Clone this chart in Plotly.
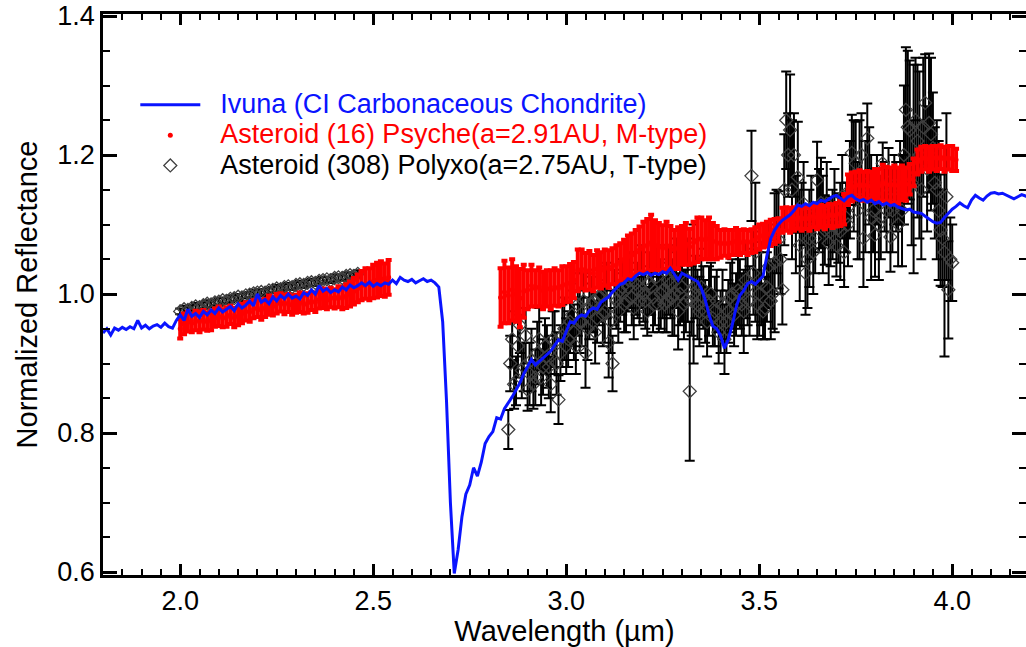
import numpy as np
import plotly.graph_objects as go

# ---------------- data ----------------
# Ivuna (CI carbonaceous chondrite) lab spectrum, 1.80-4.20 um every 0.01 um
ivuna_x = np.round(np.arange(1.80, 4.205, 0.01), 2)
ivuna_y = [
    0.944, 0.950, 0.941, 0.951, 0.948, 0.952, 0.949, 0.953, 0.950, 0.962,  # 1.80
    0.951, 0.955, 0.950, 0.954, 0.956, 0.952, 0.958, 0.953, 0.951, 0.962,  # 1.90
    0.970, 0.962, 0.978, 0.968, 0.972, 0.966, 0.975, 0.970, 0.977, 0.972,  # 2.00
    0.980, 0.974, 0.978, 0.982, 0.976, 0.986, 0.980, 0.984, 0.990, 0.983,  # 2.10
    1.000, 0.988, 0.992, 0.986, 0.996, 0.990, 0.998, 0.993, 1.000, 0.994,  # 2.20
    0.997, 0.993, 1.002, 0.998, 1.006, 1.000, 1.012, 1.004, 1.008, 1.002,  # 2.30
    1.006, 1.003, 1.010, 1.006, 1.013, 1.009, 1.012, 1.016, 1.012, 1.017,  # 2.40
    1.011, 1.015, 1.012, 1.016, 1.014, 1.020, 1.015, 1.024, 1.020, 1.018,  # 2.50
    1.021, 1.016, 1.019, 1.022, 1.018, 1.020, 1.016, 1.010, 0.960, 0.845,  # 2.60
    0.700, 0.598, 0.632, 0.680, 0.712, 0.725, 0.750, 0.738, 0.758, 0.785,  # 2.70
    0.795, 0.802, 0.822, 0.820, 0.835, 0.843, 0.852, 0.862, 0.872, 0.885,  # 2.80
    0.895, 0.906, 0.898, 0.903, 0.908, 0.914, 0.918, 0.926, 0.934, 0.932,  # 2.90
    0.945, 0.960, 0.958, 0.966, 0.970, 0.968, 0.976, 0.980, 0.978, 0.988,  # 3.00
    0.992, 0.996, 1.003, 1.008, 1.014, 1.016, 1.022, 1.020, 1.026, 1.030,  # 3.10
    1.028, 1.031, 1.027, 1.030, 1.028, 1.032, 1.030, 1.037, 1.028, 1.020,  # 3.20
    1.030, 1.027, 1.024, 1.022, 1.018, 1.008, 0.992, 0.970, 0.954, 0.950,  # 3.30
    0.940, 0.922, 0.935, 0.955, 0.980, 0.998, 1.005, 1.015, 1.018, 1.014,  # 3.40
    1.020, 1.026, 1.055, 1.080, 1.092, 1.100, 1.106, 1.110, 1.114, 1.120,  # 3.50
    1.128, 1.126, 1.130, 1.127, 1.132, 1.130, 1.135, 1.133, 1.137, 1.140,  # 3.60
    1.142, 1.138, 1.134, 1.140, 1.142, 1.137, 1.134, 1.136, 1.132, 1.135,  # 3.70
    1.130, 1.133, 1.128, 1.131, 1.127, 1.129, 1.125, 1.123, 1.121, 1.122,  # 3.80
    1.118, 1.117, 1.116, 1.112, 1.108, 1.104, 1.102, 1.103, 1.110, 1.116,  # 3.90
    1.122, 1.126, 1.131, 1.127, 1.124, 1.135, 1.142, 1.138, 1.135, 1.141,  # 4.00
    1.145, 1.146, 1.144, 1.145, 1.142, 1.139, 1.137, 1.140, 1.143, 1.141,  # 4.10
    1.138,                                                                 # 4.20
]

# Asteroid (16) Psyche: two wavelength segments, every 0.01 um
psyche_x_left = np.round(np.arange(2.00, 2.545, 0.01), 2)   # 2.00-2.54
psyche_y_left = [
    0.950, 0.957, 0.960, 0.958, 0.962, 0.960, 0.963, 0.960, 0.962, 0.966,
    0.968, 0.965, 0.967, 0.970, 0.966, 0.968, 0.972, 0.975, 0.974, 0.978,
    0.980, 0.977, 0.980, 0.984, 0.982, 0.986, 0.988, 0.985, 0.987, 0.984,
    0.986, 0.988, 0.985, 0.987, 0.990, 0.988, 0.992, 0.994, 0.991, 0.995,
    0.993, 0.996, 0.994, 0.997, 1.000, 1.004, 1.008, 1.012, 1.015, 1.014,
    1.018, 1.020, 1.022, 1.020, 1.024,
]
psyche_err_left = [
    0.014, 0.015, 0.014, 0.013, 0.014, 0.015, 0.014, 0.013, 0.014, 0.013,
    0.014, 0.013, 0.014, 0.013, 0.014, 0.013, 0.014, 0.013, 0.014, 0.013,
    0.013, 0.014, 0.013, 0.014, 0.013, 0.014, 0.013, 0.014, 0.013, 0.014,
    0.013, 0.014, 0.013, 0.014, 0.013, 0.014, 0.013, 0.014, 0.013, 0.014,
    0.014, 0.015, 0.016, 0.017, 0.018, 0.019, 0.020, 0.021, 0.022, 0.023,
    0.024, 0.025, 0.025, 0.024, 0.025,
]
psyche_x_right = np.round(np.arange(2.83, 4.015, 0.01), 2)  # 2.83-4.01
psyche_y_right = [
    0.995, 1.003, 0.998, 1.006, 1.000, 0.994, 1.004,                      # 2.83
    1.006, 1.012, 1.008, 1.010, 1.005, 1.008, 1.006, 1.010, 1.008, 1.012,  # 2.90
    1.014, 1.016, 1.020, 1.034, 1.036, 1.032, 1.034, 1.030, 1.036, 1.034,  # 3.00
    1.038, 1.036, 1.040, 1.042, 1.046, 1.050, 1.054, 1.056, 1.060, 1.064,  # 3.10
    1.068, 1.070, 1.074, 1.070, 1.068, 1.066, 1.070, 1.068, 1.064, 1.066,  # 3.20
    1.070, 1.072, 1.068, 1.074, 1.078, 1.080, 1.078, 1.080, 1.076, 1.074,  # 3.30
    1.072, 1.074, 1.072, 1.074, 1.076, 1.074, 1.076, 1.074, 1.076, 1.078,  # 3.40
    1.082, 1.084, 1.086, 1.088, 1.090, 1.092, 1.106, 1.108, 1.106, 1.108,  # 3.50
    1.110, 1.108, 1.110, 1.108, 1.112, 1.110, 1.112, 1.110, 1.114, 1.112,  # 3.60
    1.114, 1.116, 1.122, 1.150, 1.154, 1.156, 1.158, 1.155, 1.157, 1.155,  # 3.70
    1.158, 1.156, 1.160, 1.158, 1.156, 1.158, 1.156, 1.160, 1.158, 1.165,  # 3.80
    1.175, 1.190, 1.194, 1.196, 1.194, 1.196, 1.195, 1.197, 1.194, 1.196,  # 3.90
    1.195, 1.193,                                                          # 4.00
]
psyche_err_right = [
    0.042, 0.045, 0.040, 0.044, 0.040, 0.042, 0.038,
    0.028, 0.030, 0.026, 0.028, 0.027, 0.026, 0.028, 0.027, 0.026, 0.028,
    0.026, 0.027, 0.026, 0.030, 0.028, 0.027, 0.028, 0.026, 0.027, 0.026,
    0.026, 0.027, 0.026, 0.028, 0.027, 0.028, 0.030, 0.031, 0.032, 0.033,
    0.036, 0.038, 0.040, 0.036, 0.034, 0.033, 0.034, 0.030, 0.028, 0.030,
    0.028, 0.030, 0.026, 0.030, 0.032, 0.030, 0.028, 0.030, 0.026, 0.024,
    0.020, 0.019, 0.020, 0.018, 0.019, 0.018, 0.017, 0.018, 0.017, 0.018,
    0.018, 0.017, 0.018, 0.019, 0.018, 0.017, 0.018, 0.017, 0.018, 0.017,
    0.016, 0.017, 0.016, 0.017, 0.016, 0.017, 0.016, 0.017, 0.016, 0.017,
    0.017, 0.018, 0.022, 0.022, 0.021, 0.020, 0.020, 0.021, 0.020, 0.021,
    0.022, 0.024, 0.026, 0.025, 0.026, 0.027, 0.026, 0.025, 0.024, 0.022,
    0.020, 0.018, 0.018, 0.017, 0.018, 0.017, 0.018, 0.017, 0.018, 0.017,
    0.018, 0.016,
]

# Asteroid (308) Polyxo: short-wavelength segment, every 0.01 um
polyxo_x_left = np.round(np.arange(2.00, 2.465, 0.01), 2)   # 2.00-2.46
polyxo_y_left = [
    0.975, 0.978, 0.977, 0.980, 0.982, 0.981, 0.984, 0.986, 0.985, 0.988,
    0.989, 0.991, 0.990, 0.993, 0.994, 0.996, 0.995, 0.998, 0.999, 1.001,
    1.002, 1.003, 1.002, 1.005, 1.006, 1.008, 1.007, 1.010, 1.011, 1.010,
    1.013, 1.014, 1.013, 1.016, 1.017, 1.016, 1.019, 1.020, 1.021, 1.020,
    1.023, 1.024, 1.023, 1.026, 1.027, 1.026, 1.029,
]
polyxo_err_left = [
    0.004, 0.005, 0.004, 0.004, 0.005, 0.004, 0.004, 0.005, 0.004, 0.004,
    0.005, 0.004, 0.004, 0.005, 0.004, 0.004, 0.005, 0.004, 0.004, 0.005,
    0.004, 0.004, 0.005, 0.004, 0.004, 0.005, 0.004, 0.004, 0.005, 0.004,
    0.004, 0.005, 0.004, 0.004, 0.005, 0.004, 0.004, 0.005, 0.004, 0.004,
    0.005, 0.004, 0.004, 0.005, 0.004, 0.004, 0.005,
]
# Polyxo long-wavelength segment, 2.85-4.00 um on the 0.01 grid
polyxo_x_right = np.round(np.arange(2.85, 4.005, 0.01), 2)
polyxo_y_right = [
    0.805, 0.935, 0.875, 0.955, 0.895, 0.862, 0.905, 0.880, 0.935, 0.895,  # 2.85
    0.910, 0.870, 0.930, 0.848, 0.940, 0.925, 0.960, 0.945, 0.985, 0.960,  # 2.95
    0.915, 0.975, 0.990, 0.965, 1.000, 0.975, 0.930, 0.900, 0.990, 1.005,  # 3.05
    0.985, 1.010, 0.995, 1.015, 0.990, 1.000, 0.975, 1.010, 0.985, 0.985,  # 3.15
    1.005, 0.990, 1.015, 1.000, 0.975, 1.010, 0.990, 0.860, 1.000, 0.985,  # 3.25
    1.010, 0.975, 0.990, 0.965, 0.990, 0.960, 0.935, 0.975, 1.000, 0.985,  # 3.35
    1.000, 0.975, 1.010, 1.170, 1.060, 1.000, 0.975, 1.010, 0.990, 1.045,  # 3.45
    1.078, 1.006, 1.250, 1.236, 1.200, 1.168, 1.100, 1.030, 1.080, 1.060,  # 3.55
    1.164, 1.131, 1.092, 1.073, 1.100, 1.070, 1.090, 1.060, 1.100, 1.203,  # 3.65
    1.188, 1.150, 1.080, 1.224, 1.110, 1.085, 1.100, 1.188, 1.120, 1.082,  # 3.75
    1.150, 1.100, 1.120, 1.265, 1.236, 1.180, 1.220, 1.150, 1.275, 1.246,  # 3.85
    1.210, 1.150, 1.092, 1.060, 1.006, 1.045,                              # 3.95
]
polyxo_err_right = [
    0.028, 0.040, 0.035, 0.040, 0.035, 0.030, 0.045, 0.040, 0.045, 0.040,
    0.045, 0.040, 0.045, 0.035, 0.045, 0.040, 0.045, 0.040, 0.045, 0.035,
    0.050, 0.040, 0.045, 0.035, 0.040, 0.045, 0.050, 0.040, 0.040, 0.045,
    0.040, 0.035, 0.040, 0.045, 0.035, 0.040, 0.035, 0.040, 0.030, 0.040,
    0.040, 0.045, 0.050, 0.060, 0.055, 0.050, 0.045, 0.100, 0.100, 0.050,
    0.055, 0.045, 0.050, 0.040, 0.045, 0.045, 0.050, 0.045, 0.050, 0.045,
    0.050, 0.060, 0.055, 0.065, 0.100, 0.060, 0.040, 0.050, 0.055, 0.100,
    0.070, 0.050, 0.070, 0.080, 0.060, 0.080, 0.060, 0.060, 0.070, 0.060,
    0.055, 0.065, 0.050, 0.060, 0.050, 0.045, 0.070, 0.050, 0.060, 0.055,
    0.060, 0.100, 0.070, 0.050, 0.090, 0.060, 0.080, 0.030, 0.060, 0.050,
    0.050, 0.060, 0.080, 0.090, 0.100, 0.150, 0.110, 0.100, 0.070, 0.100,
    0.080, 0.100, 0.080, 0.150, 0.070, 0.055,
]
# Polyxo long-wavelength segment, interleaved samples 2.855-3.995 um
polyxo_x_mid = np.round(np.arange(2.855, 4.0, 0.01), 3)
polyxo_y_mid = [
    0.900, 0.870, 0.925, 0.890, 0.940, 0.885, 0.870, 0.915, 0.880, 0.925,  # 2.855
    0.895, 0.935, 0.900, 0.915, 0.950, 0.935, 0.970, 0.925, 0.960, 0.990,  # 2.955
    0.950, 0.985, 0.945, 0.995, 0.970, 1.005, 0.960, 0.995, 0.975, 1.010,  # 3.055
    0.990, 1.020, 0.980, 1.005, 1.025, 0.990, 1.015, 0.995, 1.025, 1.000,  # 3.155
    0.985, 1.020, 0.995, 1.030, 1.000, 0.985, 1.020, 0.990, 1.010, 0.975,  # 3.255
    0.995, 0.960, 1.000, 0.975, 0.945, 0.985, 0.960, 0.995, 0.970, 1.005,  # 3.355
    0.985, 1.020, 0.990, 1.030, 0.985, 1.015, 0.980, 1.040, 1.000, 1.090,  # 3.455
    1.050, 1.150, 1.200, 1.150, 1.100, 1.070, 1.130, 1.050, 1.110, 1.080,  # 3.555
    1.120, 1.100, 1.130, 1.090, 1.120, 1.095, 1.140, 1.110, 1.150, 1.170,  # 3.655
    1.120, 1.200, 1.140, 1.170, 1.120, 1.150, 1.110, 1.140, 1.160, 1.120,  # 3.755
    1.140, 1.160, 1.200, 1.240, 1.160, 1.250, 1.200, 1.240, 1.180, 1.230,  # 3.855
    1.160, 1.120, 1.080, 1.140, 1.050,                                     # 3.955
]
polyxo_err_mid = [
    0.040, 0.035, 0.045, 0.040, 0.040, 0.045, 0.035, 0.045, 0.040, 0.040,
    0.045, 0.040, 0.045, 0.040, 0.045, 0.040, 0.045, 0.040, 0.045, 0.040,
    0.045, 0.040, 0.045, 0.040, 0.045, 0.040, 0.045, 0.040, 0.045, 0.040,
    0.045, 0.040, 0.045, 0.040, 0.045, 0.040, 0.045, 0.050, 0.045, 0.050,
    0.040, 0.050, 0.055, 0.050, 0.045, 0.050, 0.060, 0.050, 0.045, 0.050,
    0.045, 0.050, 0.045, 0.050, 0.045, 0.050, 0.045, 0.050, 0.045, 0.050,
    0.045, 0.055, 0.050, 0.060, 0.050, 0.060, 0.045, 0.060, 0.050, 0.060,
    0.050, 0.080, 0.060, 0.100, 0.070, 0.080, 0.060, 0.070, 0.060, 0.050,
    0.060, 0.070, 0.060, 0.050, 0.060, 0.050, 0.060, 0.050, 0.070, 0.080,
    0.070, 0.060, 0.080, 0.070, 0.060, 0.050, 0.060, 0.050, 0.050, 0.060,
    0.050, 0.060, 0.100, 0.110, 0.090, 0.090, 0.120, 0.100, 0.090, 0.110,
    0.080, 0.100, 0.070, 0.120, 0.060,
]

ivuna_name = "Ivuna (CI Carbonaceous Chondrite)"
psyche_name = "Asteroid (16) Psyche(a=2.91AU, M-type)"
polyxo_name = "Asteroid (308) Polyxo(a=2.75AU, T-type)"

# ---------------- styling ----------------
FONT = "Liberation Sans, Arial, sans-serif"
BLUE = "#0a14ff"
RED = "#ff0000"

def legend_label(text, color):
    return f'<span style="font-size:27px;color:{color}">&nbsp;&nbsp;{text}</span>'

fig = go.Figure()

fig.add_trace(go.Scatter(
    x=list(polyxo_x_left) + list(polyxo_x_right) + list(polyxo_x_mid),
    y=polyxo_y_left + polyxo_y_right + polyxo_y_mid,
    mode="markers",
    name=legend_label(polyxo_name, "black"),
    legendrank=3,
    marker=dict(symbol="diamond-open", size=10, color="#404040",
                line=dict(width=1.3, color="#404040")),
    error_y=dict(type="data", array=polyxo_err_left + polyxo_err_right + polyxo_err_mid,
                 visible=True, color="black", thickness=2, width=5),
))

fig.add_trace(go.Scatter(
    x=list(psyche_x_left) + list(psyche_x_right),
    y=psyche_y_left + psyche_y_right,
    mode="markers",
    name=legend_label(psyche_name, RED),
    legendrank=2,
    marker=dict(symbol="circle", size=5, color=RED),
    error_y=dict(type="data", array=psyche_err_left + psyche_err_right,
                 visible=True, color=RED, thickness=4, width=3),
))

fig.add_trace(go.Scatter(
    x=ivuna_x, y=ivuna_y,
    mode="lines",
    name=legend_label(ivuna_name, BLUE),
    legendrank=1,
    line=dict(color=BLUE, width=3),
))

axis_common = dict(
    showline=True, linewidth=2.5, linecolor="black", mirror="ticks",
    ticks="inside", tickwidth=2.5, tickcolor="black",
    showgrid=False, zeroline=False, automargin=False,
    tickfont=dict(family=FONT, size=27, color="black"),
)

fig.update_layout(
    width=1026, height=647,
    margin=dict(l=103, r=0, t=14, b=72),
    paper_bgcolor="white", plot_bgcolor="white",
    font=dict(family=FONT, color="black"),
    showlegend=True,
    legend=dict(
        x=0.035, y=0.874, xanchor="left", yanchor="top",
        bgcolor="rgba(0,0,0,0)", borderwidth=0,
        font=dict(family=FONT, size=21),
        itemwidth=60, tracegroupgap=0,
    ),
    xaxis=dict(
        range=[1.8, 1.8 + 923 / 386], dtick=0.5, tick0=2.0, tickformat=".1f",
        ticklen=11,
        minor=dict(dtick=0.05, ticks="inside", ticklen=6, tickwidth=2, tickcolor="black"),
        title=dict(text="Wavelength (µm)", font=dict(family=FONT, size=29), standoff=12),
        **axis_common,
    ),
    yaxis=dict(
        range=[0.6 - 3 / 695, 1.4 + 2 / 695], dtick=0.2, tick0=0.6, tickformat=".1f",
        ticklen=14,
        minor=dict(dtick=0.05, ticks="inside", ticklen=7, tickwidth=2, tickcolor="black"),
        title=dict(text="Normalized Reflectance", font=dict(family=FONT, size=29), standoff=12),
        **axis_common,
    ),
)

fig.write_html(
    "out.html",
    config={"displayModeBar": False},
    post_script="document.body.style.margin='0px';document.body.style.overflow='hidden';",
)
